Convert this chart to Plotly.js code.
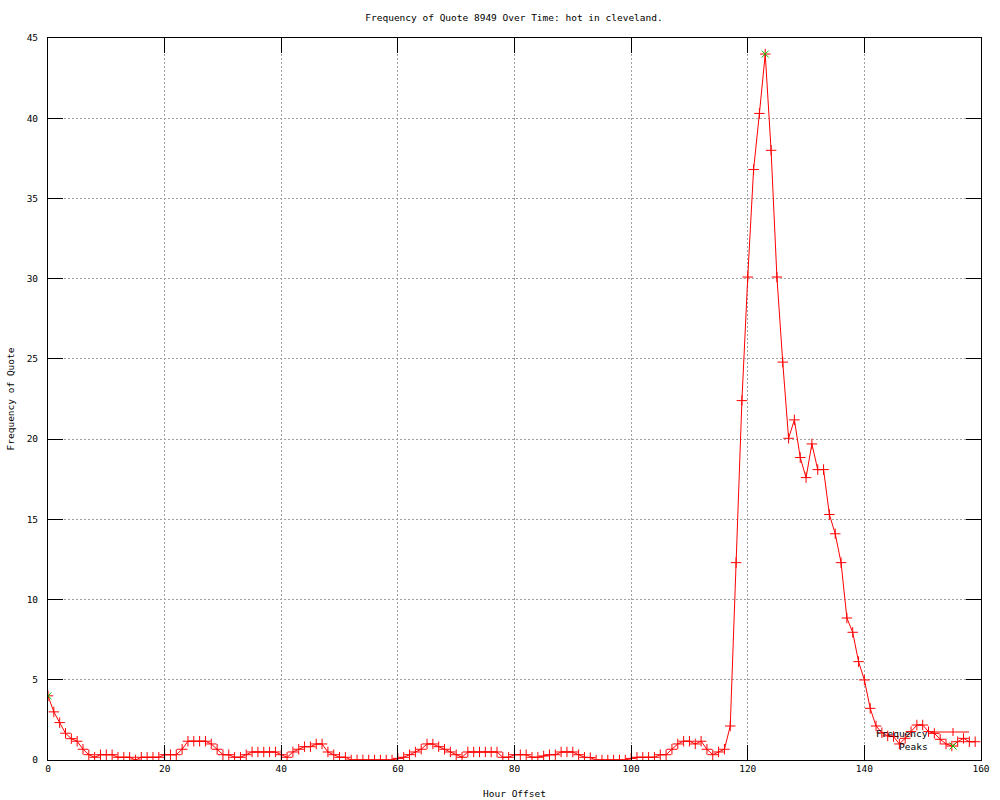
<!DOCTYPE html>
<html>
<head>
<meta charset="utf-8">
<script src="https://cdn.plot.ly/plotly-3.0.1.min.js"></script>
<style>html,body{margin:0;padding:0;background:#fff;}#chart{width:1000px;height:800px;}</style>
</head>
<body>
<div id="chart"></div>
<script>
// Hour offsets 0..159
var hours = [];
for (var i = 0; i < 160; i++) hours.push(i);

var frequency = [
  4.0, 3.0, 2.33, 1.67, 1.33, 1.17, 0.67, 0.33, 0.17, 0.33,
  0.33, 0.33, 0.17, 0.17, 0.17, 0, 0.17, 0.17, 0.17, 0.17,
  0.33, 0.33, 0.33, 0.67, 1.17, 1.17, 1.17, 1.17, 1.0, 0.67,
  0.33, 0.33, 0.17, 0.17, 0.33, 0.5, 0.5, 0.5, 0.5, 0.5,
  0.33, 0.17, 0.5, 0.67, 0.83, 0.83, 1.0, 1.0, 0.5, 0.33,
  0.17, 0.17, 0, 0, 0, 0, 0, 0, 0, 0,
  0.1, 0.17, 0.33, 0.5, 0.67, 1.0, 1.0, 0.83, 0.67, 0.5,
  0.33, 0.17, 0.5, 0.5, 0.5, 0.5, 0.5, 0.5, 0.17, 0.17,
  0.33, 0.33, 0.33, 0.17, 0.17, 0.25, 0.33, 0.33, 0.5, 0.5,
  0.5, 0.33, 0.17, 0.15, 0, 0, 0, 0, 0, 0,
  0.1, 0.17, 0.17, 0.17, 0.17, 0.33, 0.33, 0.67, 1.0, 1.17,
  1.17, 1.0, 1.17, 0.67, 0.33, 0.5, 0.67, 2.12, 12.3, 22.4,
  30.1, 36.8, 40.3, 44.0, 38.0, 30.1, 24.8, 20.05, 21.2, 18.85,
  17.6, 19.7, 18.1, 18.1, 15.3, 14.1, 12.3, 8.85, 7.96, 6.13,
  4.99, 3.22, 2.12, 1.7, 1.5, 1.46, 1.0, 1.35, 1.77, 2.18,
  2.18, 1.77, 1.66, 1.29, 1.0, 0.87, 1.14, 1.35, 1.14, 1.14
];

var peakHours = [0, 123];
var peakValues = [4.0, 44.0];

var xTicks = [0, 20, 40, 60, 80, 100, 120, 140, 160];
var yTicks = [0, 5, 10, 15, 20, 25, 30, 35, 40, 45];

var FONT = 'DejaVu Sans Mono, monospace';

var traces = [
  {
    x: hours, y: frequency, type: 'scatter', mode: 'lines+markers',
    name: 'Frequency',
    line: {color: '#ff0000', width: 1},
    marker: {symbol: 'cross-thin-open', size: 7.5, color: '#ff0000', line: {color: '#ff0000', width: 1}},
    showlegend: false, hoverinfo: 'skip'
  },
  {
    x: peakHours, y: peakValues, type: 'scatter', mode: 'markers',
    name: 'Peaks',
    marker: {symbol: 'x-thin-open', size: 7, color: '#00c000', line: {color: '#00c000', width: 1}},
    showlegend: false, hoverinfo: 'skip'
  }
];

function px2x(p) { return (p - 48) / 933; }
function px2y(p) { return (760 - p) / 722; }

var layout = {
  width: 1000, height: 800,
  margin: {l: 48, r: 19, t: 38, b: 40},
  paper_bgcolor: '#ffffff', plot_bgcolor: '#ffffff',
  font: {family: FONT, size: 9.5, color: '#000000'},
  showlegend: false,
  title: {
    text: 'Frequency of Quote 8949 Over Time: hot in cleveland.',
    font: {family: FONT, size: 9.5, color: '#000000'},
    x: px2x(514), xanchor: 'center', xref: 'paper',
    y: 1 - 18 / 800, yanchor: 'middle', yref: 'container'
  },
  xaxis: {
    range: [0, 160], tickvals: xTicks, ticktext: xTicks.map(String),
    ticks: 'inside', ticklen: 15, tickcolor: '#000', tickwidth: 1,
    showline: true, linecolor: '#000', linewidth: 1, mirror: 'ticks',
    showgrid: true, gridcolor: '#a0a0a0', griddash: '2px,2px', gridwidth: 1,
    zeroline: false, fixedrange: true, automargin: false,
    tickfont: {family: FONT, size: 9.5, color: '#000'},
    title: {text: 'Hour Offset', font: {family: FONT, size: 9.5, color: '#000'}, standoff: 16}
  },
  yaxis: {
    range: [0, 45], tickvals: yTicks, ticktext: yTicks.map(String),
    ticks: 'inside', ticklen: 15, tickcolor: '#000', tickwidth: 1,
    showline: true, linecolor: '#000', linewidth: 1, mirror: 'ticks',
    showgrid: true, gridcolor: '#a0a0a0', griddash: '2px,2px', gridwidth: 1,
    zeroline: false, fixedrange: true, automargin: false,
    ticklabelstandoff: 7,
    tickfont: {family: FONT, size: 9.5, color: '#000'},
    title: {text: 'Frequency of Quote', font: {family: FONT, size: 9.5, color: '#000'}, standoff: 10}
  },
  annotations: [
    {text: 'Frequency', xref: 'paper', yref: 'paper', x: px2x(930), y: px2y(733),
     xanchor: 'right', yanchor: 'middle', showarrow: false,
     font: {family: FONT, size: 9.5, color: '#000'}},
    {text: 'Peaks', xref: 'paper', yref: 'paper', x: px2x(930), y: px2y(746),
     xanchor: 'right', yanchor: 'middle', showarrow: false,
     font: {family: FONT, size: 9.5, color: '#000'}}
  ],
  shapes: [
    {type: 'line', xref: 'paper', yref: 'paper', x0: px2x(932), x1: px2x(969), y0: px2y(732), y1: px2y(732),
     line: {color: '#ff0000', width: 1}},
    {type: 'line', xref: 'paper', yref: 'paper', x0: px2x(953), x1: px2x(953), y0: px2y(728), y1: px2y(736),
     line: {color: '#ff0000', width: 1}},
    {type: 'line', xref: 'paper', yref: 'paper', x0: px2x(949.5), x1: px2x(956.5), y0: px2y(742.5), y1: px2y(749.5),
     line: {color: '#00c000', width: 1}},
    {type: 'line', xref: 'paper', yref: 'paper', x0: px2x(949.5), x1: px2x(956.5), y0: px2y(749.5), y1: px2y(742.5),
     line: {color: '#00c000', width: 1}}
  ]
};

Plotly.newPlot('chart', traces, layout, {displayModeBar: false, staticPlot: true});
</script>
</body>
</html>
